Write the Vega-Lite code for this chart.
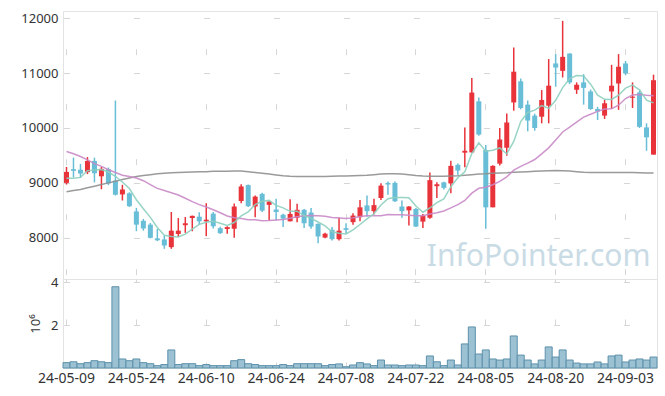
{
 "$schema": "https://vega.github.io/schema/vega-lite/v6.json",
 "padding": {"left": 20, "top": 10, "right": 5, "bottom": 5},
 "bounds": "flush",
 "spacing": 0,
 "config": {
  "view": {"stroke": "#e3e3e3"},
  "font": "Noto Sans",
  "axis": {"labelFont": "Noto Sans", "labelFontSize": 13, "labelColor": "#333333", "ticks": false, "grid": false, "domainColor": "#e3e3e3", "labelPadding": 5, "titleFont": "Noto Sans", "titleFontWeight": "normal", "titleFontSize": 13, "titleColor": "#333333", "gridColor": "#d6d6d6", "gridWidth": 1}
 },
 "datasets": {
  "k": [
   {"d":"24-05-09","o":9000,"h":9290,"l":8970,"c":9200,"v":0.25,"m5":9085,"m20":9570,"m60":8840},
   {"d":"24-05-10","o":9250,"h":9460,"l":9100,"c":9220,"v":0.29,"m5":9085,"m20":9530,"m60":8860},
   {"d":"24-05-13","o":9240,"h":9345,"l":9090,"c":9170,"v":0.20,"m5":9100,"m20":9480,"m60":8880},
   {"d":"24-05-14","o":9195,"h":9470,"l":9160,"c":9400,"v":0.25,"m5":9220,"m20":9420,"m60":8910},
   {"d":"24-05-16","o":9400,"h":9460,"l":9010,"c":9175,"v":0.34,"m5":9233,"m20":9350,"m60":8940},
   {"d":"24-05-17","o":9120,"h":9290,"l":8885,"c":9255,"v":0.29,"m5":9244,"m20":9300,"m60":8970},
   {"d":"24-05-20","o":9250,"h":9280,"l":8960,"c":8990,"v":0.25,"m5":9198,"m20":9240,"m60":9000},
   {"d":"24-05-21","o":9040,"h":10500,"l":8770,"c":8785,"v":3.78,"m5":9121,"m20":9190,"m60":9030},
   {"d":"24-05-22","o":8790,"h":8965,"l":8680,"c":8880,"v":0.42,"m5":9017,"m20":9140,"m60":9060},
   {"d":"24-05-23","o":8810,"h":8830,"l":8560,"c":8575,"v":0.34,"m5":8897,"m20":9115,"m60":9090},
   {"d":"24-05-24","o":8480,"h":8545,"l":8120,"c":8240,"v":0.42,"m5":8694,"m20":9090,"m60":9115},
   {"d":"24-05-27","o":8310,"h":8345,"l":8130,"c":8170,"v":0.25,"m5":8530,"m20":9040,"m60":9135},
   {"d":"24-05-28","o":8240,"h":8270,"l":7990,"c":8000,"v":0.20,"m5":8373,"m20":8970,"m60":9150},
   {"d":"24-05-29","o":7990,"h":8160,"l":7940,"c":7955,"v":0.11,"m5":8188,"m20":8900,"m60":9165},
   {"d":"24-05-30","o":7970,"h":8040,"l":7800,"c":7860,"v":0.16,"m5":8045,"m20":8860,"m60":9175},
   {"d":"24-05-31","o":7830,"h":8470,"l":7800,"c":8130,"v":0.84,"m5":8023,"m20":8820,"m60":9185},
   {"d":"24-06-03","o":8070,"h":8360,"l":8020,"c":8130,"v":0.16,"m5":8015,"m20":8780,"m60":9190},
   {"d":"24-06-04","o":8230,"h":8380,"l":8090,"c":8265,"v":0.20,"m5":8068,"m20":8720,"m60":9195},
   {"d":"24-06-05","o":8360,"h":8405,"l":8120,"c":8400,"v":0.20,"m5":8157,"m20":8660,"m60":9200},
   {"d":"24-06-07","o":8385,"h":8465,"l":8240,"c":8300,"v":0.11,"m5":8245,"m20":8605,"m60":9205},
   {"d":"24-06-10","o":8300,"h":8630,"l":8030,"c":8330,"v":0.16,"m5":8285,"m20":8562,"m60":9205},
   {"d":"24-06-11","o":8440,"h":8470,"l":8170,"c":8210,"v":0.11,"m5":8301,"m20":8511,"m60":9210},
   {"d":"24-06-12","o":8175,"h":8200,"l":8070,"c":8085,"v":0.11,"m5":8265,"m20":8457,"m60":9210},
   {"d":"24-06-13","o":8160,"h":8210,"l":8075,"c":8195,"v":0.11,"m5":8224,"m20":8397,"m60":9210},
   {"d":"24-06-14","o":8165,"h":8625,"l":8000,"c":8570,"v":0.34,"m5":8278,"m20":8366,"m60":9215},
   {"d":"24-06-17","o":8670,"h":8975,"l":8630,"c":8935,"v":0.39,"m5":8399,"m20":8350,"m60":9215},
   {"d":"24-06-18","o":8960,"h":8970,"l":8560,"c":8575,"v":0.20,"m5":8472,"m20":8330,"m60":9205},
   {"d":"24-06-19","o":8570,"h":8770,"l":8375,"c":8750,"v":0.16,"m5":8605,"m20":8328,"m60":9190},
   {"d":"24-06-20","o":8800,"h":8820,"l":8470,"c":8495,"v":0.11,"m5":8665,"m20":8309,"m60":9175},
   {"d":"24-06-21","o":8600,"h":8665,"l":8315,"c":8660,"v":0.11,"m5":8683,"m20":8313,"m60":9160},
   {"d":"24-06-24","o":8515,"h":8710,"l":8315,"c":8470,"v":0.11,"m5":8590,"m20":8324,"m60":9145},
   {"d":"24-06-25","o":8420,"h":8440,"l":8195,"c":8350,"v":0.16,"m5":8545,"m20":8333,"m60":9130},
   {"d":"24-06-26","o":8300,"h":8700,"l":8300,"c":8435,"v":0.11,"m5":8482,"m20":8355,"m60":9120},
   {"d":"24-06-27","o":8365,"h":8620,"l":8285,"c":8510,"v":0.20,"m5":8485,"m20":8383,"m60":9115},
   {"d":"24-06-28","o":8510,"h":8525,"l":8180,"c":8265,"v":0.20,"m5":8406,"m20":8403,"m60":9115},
   {"d":"24-07-01","o":8460,"h":8545,"l":8165,"c":8205,"v":0.20,"m5":8353,"m20":8407,"m60":9115},
   {"d":"24-07-02","o":8255,"h":8260,"l":7900,"c":8025,"v":0.20,"m5":8288,"m20":8402,"m60":9115},
   {"d":"24-07-03","o":8005,"h":8090,"l":7990,"c":8075,"v":0.11,"m5":8216,"m20":8392,"m60":9115},
   {"d":"24-07-04","o":8145,"h":8195,"l":7950,"c":7975,"v":0.16,"m5":8109,"m20":8371,"m60":9120},
   {"d":"24-07-05","o":7975,"h":8370,"l":7950,"c":8130,"v":0.19,"m5":8082,"m20":8362,"m60":9125},
   {"d":"24-07-08","o":8175,"h":8265,"l":8080,"c":8145,"v":0.06,"m5":8070,"m20":8353,"m60":9125},
   {"d":"24-07-09","o":8285,"h":8445,"l":8240,"c":8405,"v":0.14,"m5":8146,"m20":8363,"m60":9130},
   {"d":"24-07-10","o":8375,"h":8690,"l":8300,"c":8555,"v":0.25,"m5":8242,"m20":8386,"m60":9135},
   {"d":"24-07-11","o":8590,"h":8770,"l":8385,"c":8485,"v":0.19,"m5":8344,"m20":8401,"m60":9140},
   {"d":"24-07-12","o":8485,"h":8710,"l":8425,"c":8595,"v":0.11,"m5":8437,"m20":8402,"m60":9150},
   {"d":"24-07-15","o":8725,"h":8995,"l":8690,"c":8950,"v":0.37,"m5":8598,"m20":8403,"m60":9160},
   {"d":"24-07-16","o":9000,"h":9025,"l":8785,"c":8970,"v":0.14,"m5":8711,"m20":8423,"m60":9165},
   {"d":"24-07-17","o":9000,"h":9025,"l":8650,"c":8665,"v":0.14,"m5":8733,"m20":8418,"m60":9165},
   {"d":"24-07-18","o":8570,"h":8680,"l":8365,"c":8485,"v":0.11,"m5":8733,"m20":8418,"m60":9160},
   {"d":"24-07-19","o":8500,"h":8575,"l":8225,"c":8570,"v":0.14,"m5":8728,"m20":8413,"m60":9150},
   {"d":"24-07-22","o":8525,"h":8545,"l":8195,"c":8205,"v":0.14,"m5":8579,"m20":8400,"m60":9135},
   {"d":"24-07-23","o":8295,"h":8435,"l":8180,"c":8405,"v":0.11,"m5":8466,"m20":8403,"m60":9125},
   {"d":"24-07-24","o":8365,"h":9190,"l":8345,"c":9050,"v":0.56,"m5":8543,"m20":8434,"m60":9120},
   {"d":"24-07-25","o":8940,"h":9010,"l":8725,"c":8975,"v":0.29,"m5":8641,"m20":8457,"m60":9120},
   {"d":"24-07-26","o":9010,"h":9020,"l":8880,"c":8910,"v":0.11,"m5":8709,"m20":8489,"m60":9120},
   {"d":"24-07-29","o":8990,"h":9405,"l":8810,"c":9310,"v":0.37,"m5":8930,"m20":8544,"m60":9125},
   {"d":"24-07-30","o":9330,"h":9355,"l":9150,"c":9225,"v":0.14,"m5":9094,"m20":8604,"m60":9130},
   {"d":"24-07-31","o":9550,"h":10010,"l":9285,"c":9585,"v":1.12,"m5":9201,"m20":8680,"m60":9140},
   {"d":"24-08-01","o":9555,"h":10910,"l":9555,"c":10645,"v":1.91,"m5":9535,"m20":8813,"m60":9150},
   {"d":"24-08-02","o":10485,"h":10555,"l":9860,"c":9880,"v":0.65,"m5":9729,"m20":8901,"m60":9160},
   {"d":"24-08-05","o":9600,"h":9690,"l":8165,"c":8555,"v":0.84,"m5":9578,"m20":8921,"m60":9165},
   {"d":"24-08-06","o":8555,"h":9320,"l":8555,"c":9310,"v":0.42,"m5":9595,"m20":8967,"m60":9175},
   {"d":"24-08-07","o":9350,"h":10000,"l":9315,"c":9790,"v":0.37,"m5":9636,"m20":9028,"m60":9180},
   {"d":"24-08-08","o":9640,"h":10265,"l":9495,"c":10100,"v":0.42,"m5":9527,"m20":9109,"m60":9185},
   {"d":"24-08-09","o":10465,"h":11465,"l":10315,"c":11025,"v":1.49,"m5":9756,"m20":9231,"m60":9195},
   {"d":"24-08-12","o":10850,"h":10900,"l":10340,"c":10365,"v":0.60,"m5":10118,"m20":9301,"m60":9200},
   {"d":"24-08-13","o":10425,"h":10500,"l":9940,"c":10135,"v":0.37,"m5":10283,"m20":9360,"m60":9205},
   {"d":"24-08-14","o":10225,"h":10260,"l":9950,"c":10000,"v":0.19,"m5":10325,"m20":9426,"m60":9210},
   {"d":"24-08-16","o":10205,"h":10690,"l":10085,"c":10510,"v":0.37,"m5":10407,"m20":9528,"m60":9215},
   {"d":"24-08-19","o":10405,"h":11255,"l":10085,"c":10770,"v":0.98,"m5":10356,"m20":9638,"m60":9220},
   {"d":"24-08-20","o":11175,"h":11345,"l":10750,"c":11100,"v":0.51,"m5":10503,"m20":9782,"m60":9225},
   {"d":"24-08-21","o":11040,"h":11950,"l":10920,"c":11295,"v":0.84,"m5":10735,"m20":9927,"m60":9220},
   {"d":"24-08-22","o":11355,"h":11360,"l":10800,"c":10830,"v":0.37,"m5":10901,"m20":10016,"m60":9215},
   {"d":"24-08-23","o":10695,"h":10830,"l":10620,"c":10785,"v":0.23,"m5":10956,"m20":10106,"m60":9205},
   {"d":"24-08-26","o":10830,"h":10980,"l":10425,"c":10730,"v":0.19,"m5":10948,"m20":10197,"m60":9195},
   {"d":"24-08-27","o":10665,"h":10700,"l":10330,"c":10345,"v":0.19,"m5":10797,"m20":10249,"m60":9190},
   {"d":"24-08-28","o":10345,"h":10385,"l":10145,"c":10300,"v":0.28,"m5":10598,"m20":10303,"m60":9190},
   {"d":"24-08-29","o":10225,"h":10510,"l":10165,"c":10450,"v":0.19,"m5":10522,"m20":10346,"m60":9190},
   {"d":"24-08-30","o":10665,"h":11150,"l":10345,"c":10770,"v":0.56,"m5":10519,"m20":10352,"m60":9190},
   {"d":"24-09-02","o":10810,"h":11345,"l":10330,"c":11115,"v":0.60,"m5":10596,"m20":10414,"m60":9190},
   {"d":"24-09-03","o":11175,"h":11220,"l":10960,"c":10995,"v":0.28,"m5":10726,"m20":10536,"m60":9190},
   {"d":"24-09-04","o":10550,"h":10830,"l":10365,"c":10570,"v":0.37,"m5":10780,"m20":10599,"m60":9190},
   {"d":"24-09-05","o":10645,"h":10680,"l":10000,"c":10020,"v":0.42,"m5":10694,"m20":10611,"m60":9185},
   {"d":"24-09-06","o":10010,"h":10085,"l":9585,"c":9830,"v":0.37,"m5":10506,"m20":10597,"m60":9180},
   {"d":"24-09-09","o":9515,"h":10970,"l":9515,"c":10870,"v":0.51,"m5":10457,"m20":10589,"m60":9180}
  ]
 },
 "vconcat": [
  {
   "width": 594,
   "height": 268,
   "data": {"name": "k"},
   "encoding": {
    "x": {"field": "d", "type": "ordinal", "sort": null, "title": null, "scale": {"paddingInner": 0, "paddingOuter": 0},
          "axis": {"values": ["24-05-09","24-05-24","24-06-10","24-06-24","24-07-08","24-07-22","24-08-05","24-08-20","24-09-03"], "labels": false, "domain": false, "grid": true, "gridDash": [6, 49], "gridDashOffset": 17.3}}
   },
   "layer": [
    {
     "mark": {"type": "rule", "strokeWidth": 1.5},
     "encoding": {
      "y": {"field": "l", "type": "quantitative", "scale": {"domain": [7250, 12130], "zero": false, "nice": false},
            "axis": {"values": [8000, 9000, 10000, 11000, 12000], "title": null, "format": "d", "grid": true, "gridDash": [6, 64], "gridDashOffset": 69.5}},
      "y2": {"field": "h"},
      "color": {"condition": {"test": "datum.c >= datum.o", "value": "#e8333b"}, "value": "#68bdd7"}
     }
    },
    {
     "mark": {"type": "bar", "size": 5},
     "encoding": {
      "y": {"field": "o", "type": "quantitative"},
      "y2": {"field": "c"},
      "color": {"condition": {"test": "datum.c >= datum.o", "value": "#e8333b"}, "value": "#68bdd7"}
     }
    },
    {
     "mark": {"type": "line", "color": "#8f8f8f", "strokeWidth": 1.5, "opacity": 0.9},
     "encoding": {"y": {"field": "m60", "type": "quantitative"}}
    },
    {
     "mark": {"type": "line", "color": "#c98ac6", "strokeWidth": 1.5, "opacity": 0.9},
     "encoding": {"y": {"field": "m20", "type": "quantitative"}}
    },
    {
     "mark": {"type": "line", "color": "#8ccfbf", "strokeWidth": 1.5, "opacity": 0.9},
     "encoding": {"y": {"field": "m5", "type": "quantitative"}}
    },
    {
     "data": {"values": [{"t": "InfoPointer.com"}]},
     "mark": {"type": "text", "align": "right", "baseline": "alphabetic", "fontSize": 30, "font": "Noto Sans", "color": "#c9dbe5", "dx": -3},
     "encoding": {
      "x": {"datum": "24-09-09", "type": "ordinal"},
      "y": {"datum": 7480, "type": "quantitative"},
      "text": {"field": "t"}
     }
    }
   ]
  },
  {
   "width": 594,
   "height": 89,
   "data": {"name": "k"},
   "mark": {"type": "bar", "fill": "#9bc1d2", "stroke": "#5d91ab", "strokeWidth": 1},
   "encoding": {
    "x": {"field": "d", "type": "ordinal", "sort": null, "title": null,
          "scale": {"paddingInner": 0, "paddingOuter": 0},
          "axis": {"values": ["24-05-09","24-05-24","24-06-10","24-06-24","24-07-08","24-07-22","24-08-05","24-08-20","24-09-03"], "labelAngle": 0, "labelPadding": 3, "labelFontSize": 14, "domain": false, "grid": true, "gridDash": [6, 37], "gridDashOffset": 3}},
    "y": {"field": "v", "type": "quantitative", "scale": {"domain": [0, 4.14], "nice": false},
          "axis": {"values": [2, 4], "title": "10⁶", "titlePadding": 8, "grid": true, "gridDash": [6, 64], "gridDashOffset": 69.5}}
   }
  }
 ]
}
